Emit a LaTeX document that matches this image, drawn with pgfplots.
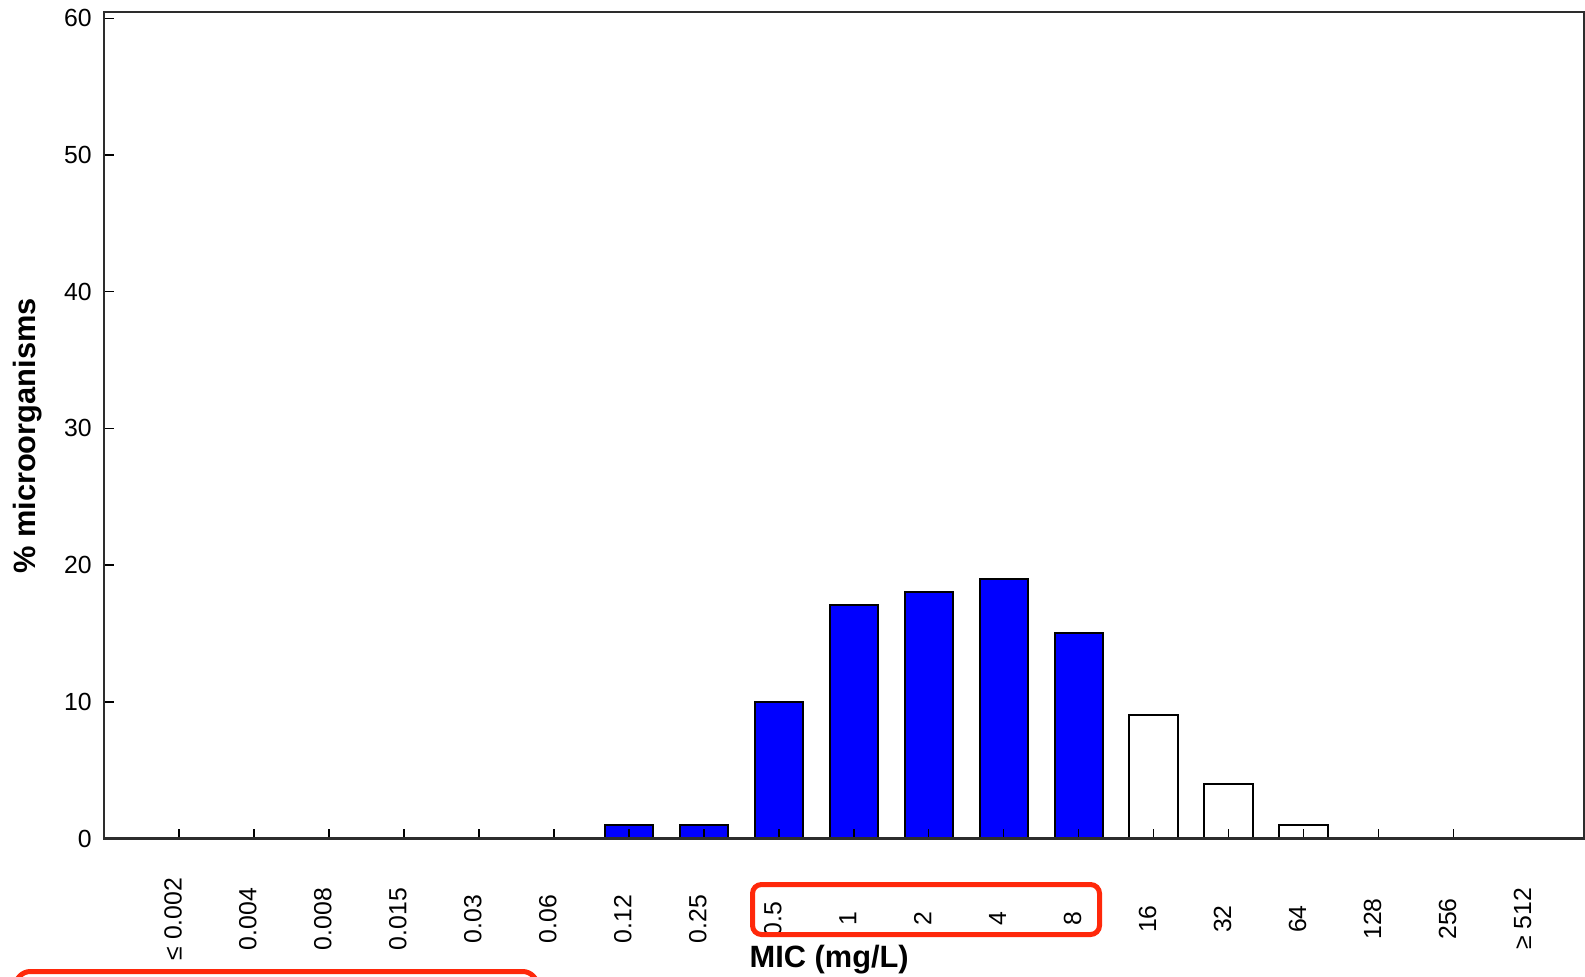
\documentclass[border=0pt]{standalone}
\usepackage{pgfplots}
\usepackage{pgfplotstable}
\pgfplotsset{compat=1.18}
\usepackage{fontspec}
\setmainfont{Liberation Sans}
\definecolor{barblue}{RGB}{0,0,255}
\definecolor{annot}{RGB}{255,40,10}
\definecolor{framec}{RGB}{45,45,45}

\pgfplotstableread{
x y
6 1
7 1
8 10
9 17.1
10 18
11 19
12 15
}\bluedata
\pgfplotstableread{
x y
13 9
14 4
15 1
}\whitedata

\begin{document}
\begin{tikzpicture}
\useasboundingbox (-52pt,-68.75pt) rectangle (740.5pt,419.25pt);
\begin{axis}[
  at={(0pt,0pt)}, anchor=south west,
  scale only axis, width=740pt, height=413.25pt,
  xmin=-1, xmax=18.74, ymin=0, ymax=60.46,
  axis on top,
  ytick={0,10,20,30,40,50,60},
  xtick={0,...,17},
  xticklabels={{≤ 0.002},0.004,0.008,0.015,0.03,0.06,0.12,0.25,0.5,1,2,4,8,16,32,64,128,256},
  extra x ticks={18},
  extra x tick labels={{≥ 512}},
  extra x tick style={major tick length=0pt},
  xtick pos=bottom, ytick pos=left,
  tick align=inside,
  major tick length=5pt,
  major tick style={black, line width=0.75pt},
  axis line style={framec, line width=1.1pt},
  /pgf/number format/assume math mode=true,
  tick label style={font=\fontsize{12.4}{14}\selectfont},
  yticklabel style={xshift=-2.6pt},
  xticklabel style={xshift=-3pt, yshift=-40.25pt, rotate=90, anchor=center},
  xlabel={MIC (mg/L)},
  xlabel style={font=\fontsize{15.4}{18}\selectfont\bfseries, at={(axis description cs:0.49,-0.1555)}, anchor=base},
  ylabel={\% microorganisms},
  ylabel style={font=\fontsize{15.4}{18}\selectfont\bfseries, at={(axis description cs:-0.0514,0.487)}, anchor=center},
]
\addplot[ybar, bar width=0.645, bar shift=0pt, fill=barblue, draw=black, line width=1pt] table {\bluedata};
\addplot[ybar, bar width=0.645, bar shift=0pt, fill=white, draw=black, line width=1pt] table {\whitedata};
\end{axis}
\draw[annot, line width=2.5pt, rounded corners=4.5pt] (324.25pt,-23pt) rectangle (497.75pt,-48pt);
\draw[annot, line width=2.5pt, rounded corners=7.5pt] (-44.25pt,-66.5pt) rectangle (216.75pt,-90pt);
\end{tikzpicture}
\end{document}
